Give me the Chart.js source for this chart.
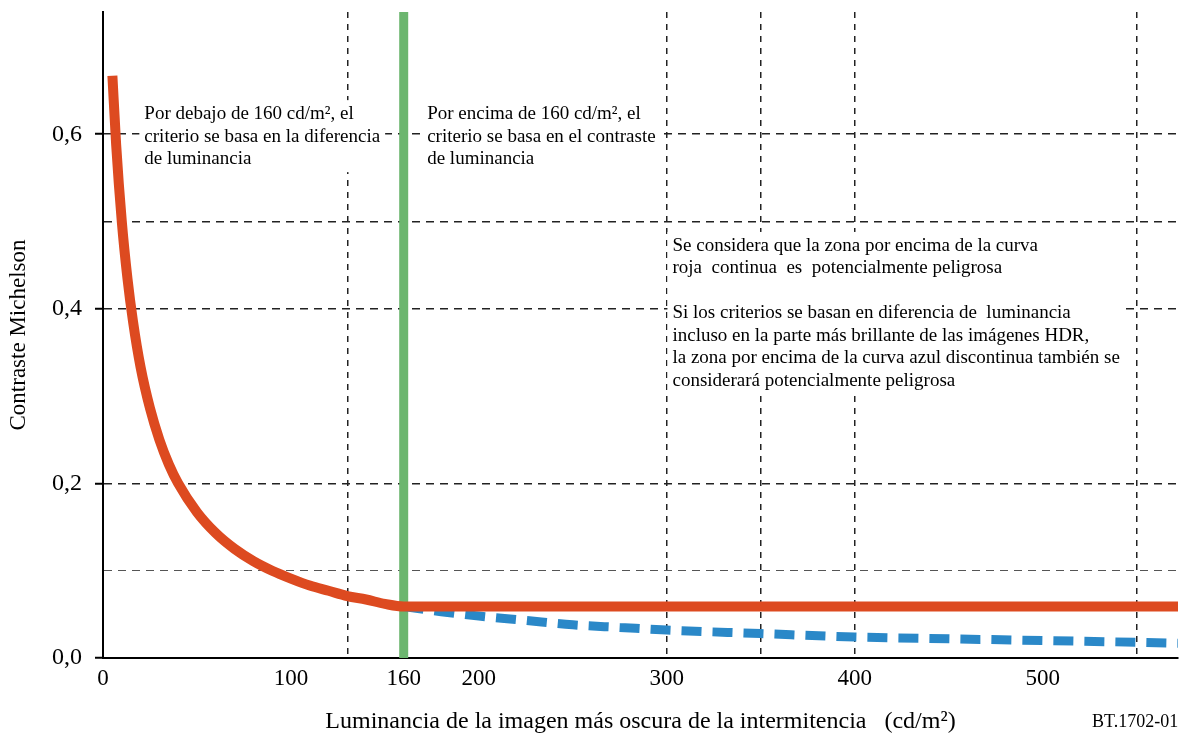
<!DOCTYPE html>
<html>
<head>
<meta charset="utf-8">
<script src="https://cdn.jsdelivr.net/npm/chart.js@4.4.0/dist/chart.umd.min.js"></script>
<style>
  html, body { margin: 0; padding: 0; background: #fff; }
  #wrap { width: 1183px; height: 736px; }
</style>
</head>
<body>
<div id="wrap"><canvas id="contrastChart"></canvas></div>
<script>
// Curva roja continua
var redLum = [5, 7, 10, 13, 16, 20, 25, 30, 35, 40, 50, 60, 70, 80, 90, 100, 110, 120, 130, 140, 150, 160, 572];
var redContrast = [0.667, 0.588, 0.5, 0.435, 0.385, 0.333, 0.286, 0.25, 0.222, 0.2, 0.167, 0.143, 0.125, 0.111, 0.1, 0.091, 0.083, 0.077, 0.071, 0.067, 0.062, 0.059, 0.059];

// Curva azul discontinua
var blueLum = [160, 180, 200, 225, 250, 275, 300, 350, 400, 450, 500, 550, 572];
var blueContrast = [0.059, 0.053, 0.048, 0.043, 0.038, 0.035, 0.032, 0.028, 0.024, 0.022, 0.020, 0.018, 0.017];

// Linea verde en 160 cd/m2
var greenLum = [160, 160];
var greenContrast = [0, 0.74];

// Ejes
var xTickValues = [0, 100, 130, 160, 200, 300, 350, 400, 500, 550];
var xTickLabels = [0, 100, 160, 200, 300, 400, 500];
var xGridValues = [130, 300, 350, 400, 550];
var yTickLabels = [0, 0.2, 0.4, 0.6];
var yGridValues = [0.1, 0.2, 0.4, 0.5, 0.6];

var notes = [
    { lum: 22, c: 0.623, lines: ['Por debajo de 160 cd/m\u00b2, el', 'criterio se basa en la diferencia', 'de luminancia'] },
    { lum: 172.5, c: 0.623, lines: ['Por encima de 160 cd/m\u00b2, el', 'criterio se basa en el contraste', 'de luminancia'] },
    { lum: 303, c: 0.472, lines: ['Se considera que la zona por encima de la curva', 'roja  continua  es  potencialmente peligrosa', '',
        'Si los criterios se basan en diferencia de  luminancia', 'incluso en la parte m\u00e1s brillante de las im\u00e1genes HDR,',
        'la zona por encima de la curva azul discontinua tambi\u00e9n se', 'considerar\u00e1 potencialmente peligrosa'] }
];

function toPoints(xs, ys) {
    return xs.map(function (x, i) { return { x: x, y: ys[i] }; });
}
function inList(list, v, f) {
    return list.some(function (a) { return Math.round(a * f) === Math.round(v * f); });
}

var SERIF = "'Liberation Serif', 'Times New Roman', serif";
Chart.defaults.font.family = SERIF;
Chart.defaults.color = '#000';

var notesPlugin = {
    id: 'notas',
    beforeDatasetsDraw: function (chart) {
        var ctx = chart.ctx, xs = chart.scales.x, ys = chart.scales.y;
        ctx.save();
        ctx.font = '19px ' + SERIF;
        ctx.textBaseline = 'middle';
        notes.forEach(function (n) {
            var left = xs.getPixelForValue(n.lum), top = ys.getPixelForValue(n.c);
            var w = 0;
            n.lines.forEach(function (l) { w = Math.max(w, ctx.measureText(l).width); });
            ctx.fillStyle = '#fff';
            ctx.fillRect(left - 5, top - 14, w + 10, (n.lines.length - 1) * 22.5 + 27);
            ctx.fillStyle = '#000';
            n.lines.forEach(function (l, i) { ctx.fillText(l, left, top + i * 22.5); });
        });
        ctx.restore();
    },
    afterDraw: function (chart) {
        var ctx = chart.ctx;
        ctx.save();
        ctx.font = '18px ' + SERIF;
        ctx.fillStyle = '#000';
        ctx.textBaseline = 'middle';
        ctx.fillText('BT.1702-01', 1092, 722);
        ctx.restore();
    }
};

var chart = new Chart(document.getElementById('contrastChart'), {
    type: 'line',
    data: {
        datasets: [{
            data: toPoints(redLum, redContrast),
            borderColor: '#dd4a20',
            borderWidth: 10,
            pointRadius: 0,
            cubicInterpolationMode: 'monotone'
        }, {
            data: toPoints(blueLum, blueContrast),
            borderColor: '#2a88c8',
            borderWidth: 9,
            borderDash: [20, 11],
            pointRadius: 0,
            cubicInterpolationMode: 'monotone'
        }, {
            data: toPoints(greenLum, greenContrast),
            borderColor: '#6cb66f',
            borderWidth: 9,
            pointRadius: 0
        }]
    },
    options: {
        responsive: true,
        maintainAspectRatio: false,
        animation: false,
        layout: { padding: { top: 12, right: 5, left: 0, bottom: 0 } },
        plugins: { legend: { display: false }, tooltip: { enabled: false } },
        scales: {
            x: {
                type: 'linear',
                min: 0,
                max: 572,
                afterBuildTicks: function (scale) {
                    scale.ticks = xTickValues.map(function (v) { return { value: v }; });
                },
                afterFit: function (scale) {
                    scale.height = 78;
                    scale.paddingLeft = 0;
                    scale.paddingRight = 0;
                },
                ticks: {
                    autoSkip: false,
                    maxRotation: 0,
                    padding: 7,
                    font: { size: 23 },
                    callback: function (v) { return inList(xTickLabels, v, 1) ? String(v) : ''; }
                },
                grid: {
                    drawTicks: false,
                    lineWidth: 1.5,
                    color: function (c) { return c.tick && inList(xGridValues, c.tick.value, 1) ? '#222' : 'rgba(0,0,0,0)'; }
                },
                border: { display: true, color: '#000', width: 2, dash: [6, 6] },
                title: {
                    display: true,
                    text: 'Luminancia de la imagen m\u00e1s oscura de la intermitencia   (cd/m\u00b2)',
                    font: { size: 24 },
                    padding: { top: 0, bottom: 0 }
                }
            },
            y: {
                min: 0,
                max: 0.74,
                afterFit: function (scale) {
                    scale.width = 103;
                    scale.paddingTop = 0;
                    scale.paddingBottom = 0;
                },
                ticks: {
                    stepSize: 0.1,
                    padding: 13,
                    font: { size: 24 },
                    callback: function (v) { return inList(yTickLabels, v, 100) ? v.toFixed(1).replace('.', ',') : ''; }
                },
                grid: {
                    tickLength: 8,
                    lineWidth: function (c) { return c.tick && inList([0.1], c.tick.value, 100) ? 1 : 1.5; },
                    color: function (c) {
                        if (!c.tick) return 'rgba(0,0,0,0)';
                        if (inList([0.1], c.tick.value, 100)) return '#555';
                        return inList(yGridValues, c.tick.value, 100) ? '#222' : 'rgba(0,0,0,0)';
                    },
                    tickColor: function (c) { return c.tick && inList(yTickLabels, c.tick.value, 100) ? '#000' : 'rgba(0,0,0,0)'; },
                    tickWidth: 2
                },
                border: { display: true, color: '#000', width: 2, dash: [8, 6] },
                title: {
                    display: true,
                    text: 'Contraste Michelson',
                    font: { size: 23 },
                    padding: { top: 5, bottom: 0 }
                }
            }
        }
    },
    plugins: [notesPlugin]
});
</script>
</body>
</html>
